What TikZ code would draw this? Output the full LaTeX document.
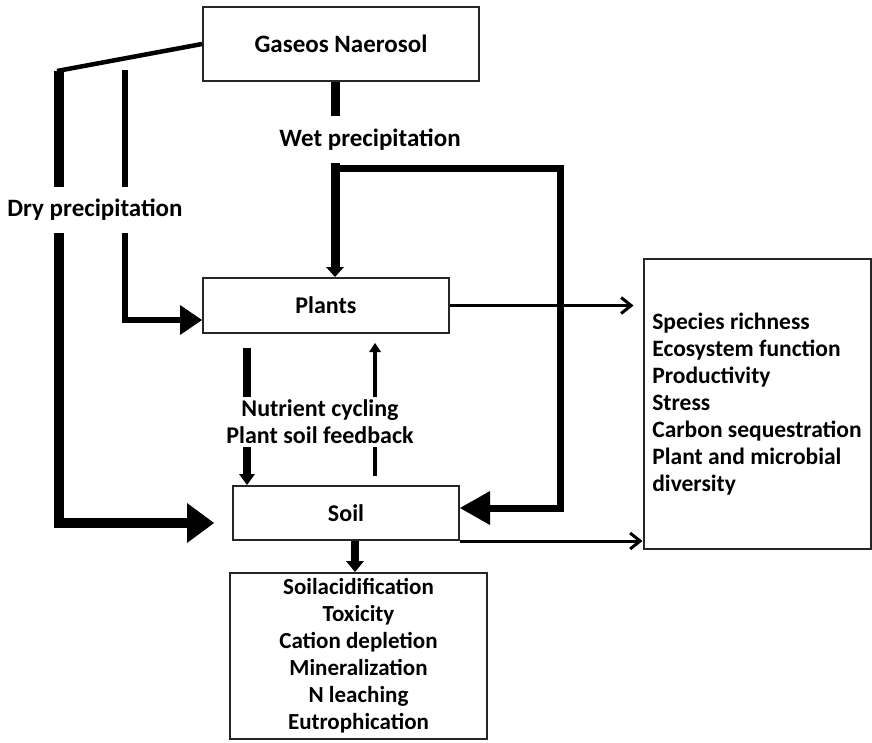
\documentclass[tikz,border=0pt]{standalone}
\usepackage{fontspec}
\setmainfont{Carlito}
\usetikzlibrary{arrows.meta,calc}
\newcommand{\fsz}[1]{\bfseries\fontsize{#1}{27}\selectfont}
\begin{document}
\begin{tikzpicture}[x=1pt,y=-1pt,
  every node/.style={font=\fsz{24}},
  box/.style={draw=black!85, line width=2pt, inner sep=0pt, align=center},
  lbl/.style={fill=white, inner xsep=3pt, inner ysep=0pt, font=\fsz{25}},
  thin/.style={line width=3pt, -{Straight Barb[length=10pt,width=16pt]}},
  line join=miter]
\useasboundingbox (0,0) rectangle (872,742);

% boxes
\node[box, minimum width=276, minimum height=74, font=\fsz{25}] (gas) at (341,44) {Gaseos Naerosol};
\node[box, minimum width=246, minimum height=55] (plants) at (326,305.5) {Plants};
\node[box, minimum width=226, minimum height=54] (soil) at (346,513) {Soil};
\node[box, minimum width=257, minimum height=166, font=\fsz{23}] (effects) at (358.5,656)
  {Soilacidification\\Toxicity\\Cation depletion\\Mineralization\\N leaching\\Eutrophication};
\node[box, minimum width=227, minimum height=290, align=left, font=\fsz{23.5}] (outcomes) at (757,404)
  {Species richness\\Ecosystem function\\Productivity\\Stress\\Carbon sequestration\\Plant and microbial\\diversity};

% helper points for the routed connectors
\coordinate (dryTop) at (59,71);
\coordinate (dryBend) at (59,523);
\coordinate (dryInTop) at (125,70);
\coordinate (dryInBend) at (125,320);
\coordinate (wetX) at (335,0);
\coordinate (wetJoin) at (335,168);
\coordinate (wetNE) at (560,168);
\coordinate (wetSE) at (560,508);
\coordinate (cycDownX) at (247,0);
\coordinate (cycUpX) at (375,0);
\coordinate (outX) at (355,0);

% dry deposition
\draw[line width=4.5pt] (gas.west) -- (57,71);
\draw[line width=10pt, -{Triangle[length=27pt,width=40pt,line width=0pt]}, shorten >=18pt]
  (dryTop) -- (dryBend) -- (dryBend -| soil.west);
\draw[line width=6.5pt, -{Triangle[length=22pt,width=30pt,line width=0pt]}]
  (dryInTop) -- (dryInBend) -- (dryInBend -| plants.west);

% wet deposition
\draw[line width=9pt, -{Triangle[length=10pt,width=18pt,line width=0pt]}]
  (wetX |- gas.south) -- (wetX |- plants.north);
\draw[line width=7pt, -{Triangle[length=30pt,width=34pt,line width=0pt]}]
  (wetJoin) -- (wetNE) -- (wetSE) -- (wetSE -| soil.east);

% exchange between plants and soil
\draw[line width=8pt, -{Triangle[length=11pt,width=16pt,line width=0pt]}, shorten <=14pt]
  (cycDownX |- plants.south) -- (cycDownX |- soil.north);
\draw[line width=4.5pt, -{Triangle[length=9pt,width=12pt,line width=0pt]}, shorten <=9pt, shorten >=9pt]
  (cycUpX |- soil.north) -- (cycUpX |- plants.south);

% consequences
\draw[line width=8pt, -{Triangle[length=11pt,width=18pt,line width=0pt]}]
  (outX |- soil.south) -- (outX |- effects.north);
\draw[thin, shorten >=9pt] (plants.east) -- (plants.east -| outcomes.west);
\draw[thin] (soil.south east) -- (soil.south east -| outcomes.west);

% labels over the connectors
\node[lbl, minimum height=46] (dry) at (95,210) {Dry precipitation};
\node[lbl, minimum height=47] (wet) at (370,139.5) {Wet precipitation};
\node[lbl, align=center, inner ysep=3pt, font=\fsz{24}] (cyc) at (320,422) {Nutrient cycling\\Plant soil feedback};
\end{tikzpicture}
\end{document}
